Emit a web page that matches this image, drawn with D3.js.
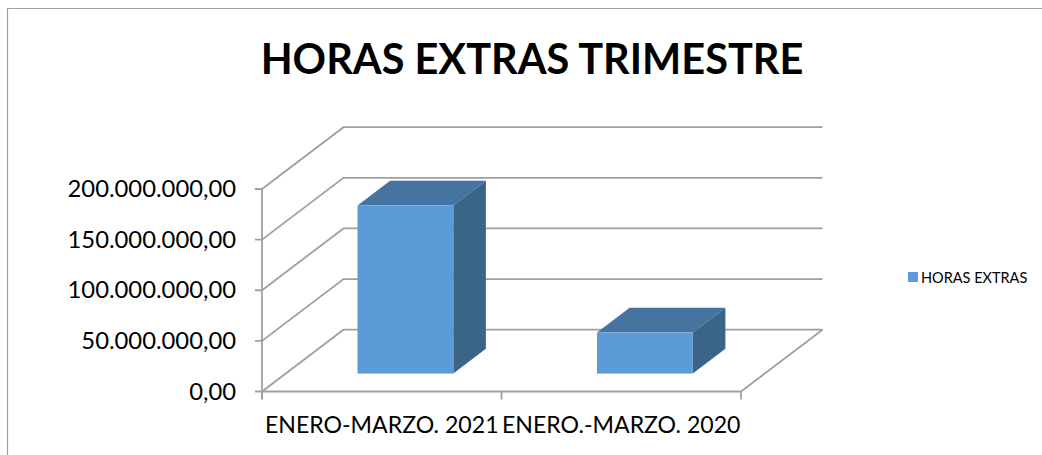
<!DOCTYPE html>
<html><head><meta charset="utf-8">
<script src="https://cdn.jsdelivr.net/npm/d3@7"></script>
<style>html,body{margin:0;background:#fff}svg{display:block}text{font-family:Lato,"Noto Sans",sans-serif;fill:#000}</style>
</head><body><svg id="c" width="1042" height="455"></svg>
<script>
const categories = ["ENERO-MARZO. 2021", "ENERO.-MARZO. 2020"];
const values = [166000000, 40500000];
const yTicks = [0, 50000000, 100000000, 150000000, 200000000];
const yTickLabels = ["0,00", "50.000.000,00", "100.000.000,00", "150.000.000,00", "200.000.000,00"];
const seriesName = "HORAS EXTRAS";
const chartTitle = "HORAS EXTRAS TRIMESTRE";

const svg = d3.select("#c");
const grid = "#a0a0a0";
const x = d3.scaleBand().domain(categories).range([262, 741]).paddingInner(0.6).paddingOuter(0.3);
const y = d3.scaleLinear().domain([0, 200000000]).range([391.5, 189]);
// oblique depth projection: 0 = front of floor, 1 = back wall
const dx = d3.scaleLinear().domain([0, 1]).range([0, 81.5]);
const dy = d3.scaleLinear().domain([0, 1]).range([0, -61.8]);
const barDepthStart = 0.29, barDepthEnd = 0.69;

svg.append("path").attr("d", "M7.5,455V8.5H1042").attr("fill", "none").attr("stroke", "#a0a0a0").attr("stroke-width", 1.2);

// Walls and gridlines
const line = svg.append("g").attr("fill", "none").attr("stroke", grid).attr("stroke-width", 1.8);
yTicks.forEach(t => {
  line.append("path").attr("d", `M${x.range()[0] - 7},${y(t)}H${x.range()[0]}L${x.range()[0] + dx(1)},${y(t) + dy(1)}H${x.range()[1] + dx(1)}`);
});
line.append("path").attr("d", `M262,${y(200000000)}V${y(0) + 8}`);
line.append("path").attr("d", `M262,${y(0)}H741L${741 + dx(1)},${y(0) + dy(1)}`);
[0, 1, 2].forEach(i => {
  const tx = 262 + i * x.step();
  line.append("path").attr("d", `M${tx},${y(0)}v8`);
});

// Bars
const dxa = dx(barDepthStart), dya = dy(barDepthStart);
const ddx = dx(barDepthEnd - barDepthStart), ddy = dy(barDepthEnd - barDepthStart);
const bars = svg.append("g").selectAll("g").data(categories.map((c, i) => ({c, v: values[i]}))).join("g");
bars.append("path").attr("fill", "#4674a0")
  .attr("d", d => { const l = x(d.c) + dxa, r = l + x.bandwidth(), t = y(d.v) + dya;
    return `M${l},${t}L${l + ddx},${t + ddy}H${r + ddx}L${r},${t}Z`; });
bars.append("path").attr("fill", "#3a6488")
  .attr("d", d => { const r = x(d.c) + dxa + x.bandwidth(), t = y(d.v) + dya, b = y(0) + dya;
    return `M${r},${t}L${r + ddx},${t + ddy}V${b + ddy}L${r},${b}Z`; });
bars.append("rect").attr("fill", "#5b9bd7")
  .attr("x", d => x(d.c) + dxa).attr("width", x.bandwidth())
  .attr("y", d => y(d.v) + dya).attr("height", d => y(0) - y(d.v));

// Text
svg.append("text").attr("x", 532).attr("y", 74).attr("text-anchor", "middle")
  .attr("font-size", 41.5).attr("font-weight", 700).text(chartTitle);
svg.append("g").selectAll("text").data(yTicks).join("text")
  .attr("x", 236).attr("y", d => y(d) + 8).attr("text-anchor", "end").attr("font-size", 23.8)
  .text((d, i) => yTickLabels[i]);
svg.append("g").selectAll("text").data(categories).join("text")
  .attr("x", d => x(d) + x.bandwidth() / 2).attr("y", 433).attr("text-anchor", "middle").attr("font-size", 23.1)
  .text(d => d);

// Legend
svg.append("rect").attr("x", 908).attr("y", 272).attr("width", 10).attr("height", 10).attr("fill", "#5b9bd7");
svg.append("text").attr("x", 921).attr("y", 282.5).attr("font-size", 14.5).text(seriesName);
</script></body></html>
